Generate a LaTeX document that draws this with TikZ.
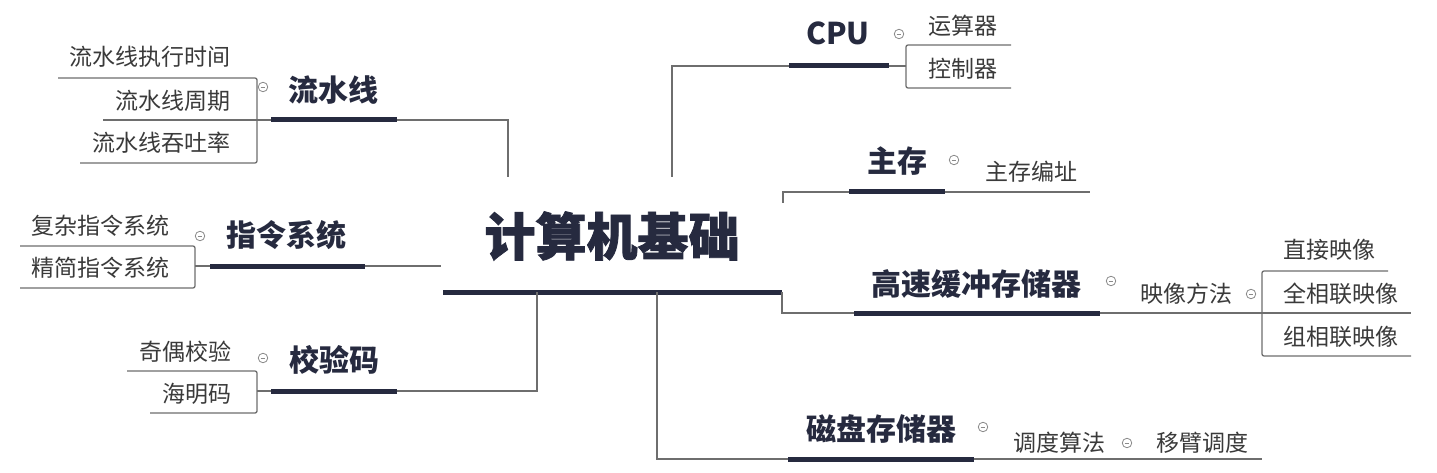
\documentclass[tikz,border=0pt]{standalone}
\usepackage{fontspec}
\newfontfamily\cjk{Noto Sans CJK SC}
\newfontfamily\cjkheavy{Noto Sans CJK SC}[BoldFeatures={FakeBold=1.5}]
\definecolor{navy}{HTML}{262A3F}
\definecolor{linegray}{HTML}{6E6E6E}
\definecolor{txtgray}{HTML}{3A3A3A}
\definecolor{foldgray}{HTML}{8A8A8A}
\tikzset{
  topic/.style={font=\cjk\bfseries\fontsize{30}{30}\selectfont, text=navy, inner sep=0pt},
  central/.style={font=\cjkheavy\bfseries\fontsize{51}{51}\selectfont, text=navy, inner sep=0pt},
  leaf/.style={font=\cjk\fontsize{23}{23}\selectfont, text=txtgray, inner sep=0pt},
  thickline/.style={draw=navy, line width=5pt},
  thinline/.style={draw=linegray, line width=1.3pt},
  bracket/.style={draw=linegray, line width=1.3pt, rounded corners=2pt},
  fold/.style={circle, draw=foldgray, line width=0.8pt, minimum size=9.5pt, inner sep=0pt,
    path picture={\draw[foldgray, line width=0.8pt] ([xshift=-2.3pt]path picture bounding box.center) -- ([xshift=2.3pt]path picture bounding box.center);}},
}
\begin{document}
\begin{tikzpicture}[x=1pt, y=-1pt]
\useasboundingbox[fill=white] (0,0) rectangle (1437,473);

% ---------- central ----------
\node[central] (root) at (612,236) {计算机基础};
\coordinate (rootL) at (443,292);
\coordinate (rootR) at (782,292);
\draw[thickline] (rootL) -- (rootR);

% ---------- 流水线 ----------
\node[topic] (lsx) at (333,90) {流水线};
\coordinate (lsxL) at (271,120); \coordinate (lsxR) at (397,120);
\coordinate (lsxC) at (508,120); \coordinate (lsxE) at (508,177);
\draw[thickline] (lsxL) -- (lsxR);
\draw[thinline] (lsxE) -- (lsxC) -- (lsxR);
\node[fold] (lsxF) at (263,87) {};
\coordinate (lsxB1) at (257,78); \coordinate (lsxB3) at (257,163);
\coordinate (lsxU1) at (58,78); \coordinate (lsxU2) at (103,120); \coordinate (lsxU3) at (80,163);
\draw[bracket] (lsxU1) -- (lsxB1) -- (lsxB3) -- (lsxU3);
\draw[thinline] (lsxU2) -- (lsxL);
\node[leaf, anchor=east] (lsx1) at (231,57) {流水线执行时间};
\node[leaf, anchor=east] (lsx2) at (231,101) {流水线周期};
\node[leaf, anchor=east] (lsx3) at (231,143) {流水线吞吐率};

% ---------- 指令系统 ----------
\node[topic] (zl) at (286,235) {指令系统};
\coordinate (zlL) at (210,266); \coordinate (zlR) at (365,266);
\coordinate (zlE) at (441,266); \coordinate (zlB) at (195,266);
\draw[thickline] (zlL) -- (zlR);
\draw[thinline] (zlR) -- (zlE);
\draw[thinline] (zlB) -- (zlL);
\node[fold] (zlF) at (200,236) {};
\coordinate (zlB1) at (195,246); \coordinate (zlB2) at (195,288);
\coordinate (zlU1) at (20,246); \coordinate (zlU2) at (20,288);
\draw[bracket] (zlU1) -- (zlB1) -- (zlB2) -- (zlU2);
\node[leaf, anchor=east] (zl1) at (170,226) {复杂指令系统};
\node[leaf, anchor=east] (zl2) at (170,268) {精简指令系统};

% ---------- 校验码 ----------
\node[topic] (jy) at (334,360) {校验码};
\coordinate (jyL) at (271,391); \coordinate (jyR) at (397,391);
\coordinate (jyC) at (537,391); \coordinate (jyE) at (537,292);
\coordinate (jyB) at (257,391);
\draw[thickline] (jyL) -- (jyR);
\draw[thinline] (jyE) -- (jyC) -- (jyR);
\draw[thinline] (jyB) -- (jyL);
\node[fold] (jyF) at (263,358) {};
\coordinate (jyB1) at (257,371); \coordinate (jyB2) at (257,413);
\coordinate (jyU1) at (127,371); \coordinate (jyU2) at (150,413);
\draw[bracket] (jyU1) -- (jyB1) -- (jyB2) -- (jyU2);
\node[leaf, anchor=east] (jy1) at (232,352) {奇偶校验};
\node[leaf, anchor=east] (jy2) at (232,394) {海明码};

% ---------- CPU ----------
\node[topic] (cpu) at (838,33) {CPU};
\coordinate (cpuL) at (789,66); \coordinate (cpuR) at (889,66);
\coordinate (cpuC) at (672,66); \coordinate (cpuE) at (672,177);
\coordinate (cpuB) at (906,66);
\draw[thickline] (cpuL) -- (cpuR);
\draw[thinline] (cpuE) -- (cpuC) -- (cpuL);
\draw[thinline] (cpuR) -- (cpuB);
\node[fold] (cpuF) at (899,34) {};
\coordinate (cpuB1) at (906,45); \coordinate (cpuB2) at (906,88);
\coordinate (cpuU1) at (1011,45); \coordinate (cpuU2) at (1011,88);
\draw[bracket] (cpuU1) -- (cpuB1) -- (cpuB2) -- (cpuU2);
\node[leaf, anchor=west] (cpu1) at (928,26) {运算器};
\node[leaf, anchor=west] (cpu2) at (928,69) {控制器};

% ---------- 主存 ----------
\node[topic] (zc) at (897,161) {主存};
\coordinate (zcL) at (849,192); \coordinate (zcR) at (945,192);
\coordinate (zcC) at (783,192); \coordinate (zcE) at (783,203);
\coordinate (zcU) at (1090,192);
\draw[thickline] (zcL) -- (zcR);
\draw[thinline] (zcE) -- (zcC) -- (zcL);
\draw[thinline] (zcR) -- (zcU);
\node[fold] (zcF) at (954,160) {};
\node[leaf] (zc1) at (1031,172) {主存编址};

% ---------- 高速缓冲存储器 ----------
\node[topic] (gs) at (976,284) {高速缓冲存储器};
\coordinate (gsL) at (854,313); \coordinate (gsR) at (1100,313);
\coordinate (gsC) at (782,313);
\draw[thickline] (gsL) -- (gsR);
\draw[thinline] (rootR) -- (gsC) -- (gsL);
\node[fold] (gsF) at (1111,281) {};
\node[leaf] (ys) at (1186,294) {映像方法};
\coordinate (ysR) at (1262,313);
\draw[thinline] (gsR) -- (ysR);
\node[fold] (ysF) at (1251,294) {};
\coordinate (ysB1) at (1262,271); \coordinate (ysB3) at (1262,356);
\coordinate (ysU1) at (1388,271); \coordinate (ysU2) at (1411,313); \coordinate (ysU3) at (1411,356);
\draw[bracket] (ysU1) -- (ysB1) -- (ysB3) -- (ysU3);
\draw[thinline] (ysR) -- (ysU2);
\node[leaf, anchor=west] (ys1) at (1283,250) {直接映像};
\node[leaf, anchor=west] (ys2) at (1283,294) {全相联映像};
\node[leaf, anchor=west] (ys3) at (1283,337) {组相联映像};

% ---------- 磁盘存储器 ----------
\node[topic] (cp) at (881,429) {磁盘存储器};
\coordinate (cpL) at (788,459); \coordinate (cpR) at (974,459);
\coordinate (cpS) at (657,292); \coordinate (cpC) at (657,459);
\coordinate (cpU) at (1262,459);
\draw[thickline] (cpL) -- (cpR);
\draw[thinline] (cpS) -- (cpC) -- (cpL);
\draw[thinline] (cpR) -- (cpU);
\node[fold] (cpF) at (983,427) {};
\node[leaf] (dd) at (1059,443) {调度算法};
\node[fold] (ddF) at (1127,443) {};
\node[leaf] (yb) at (1202,443) {移臂调度};
\end{tikzpicture}
\end{document}
